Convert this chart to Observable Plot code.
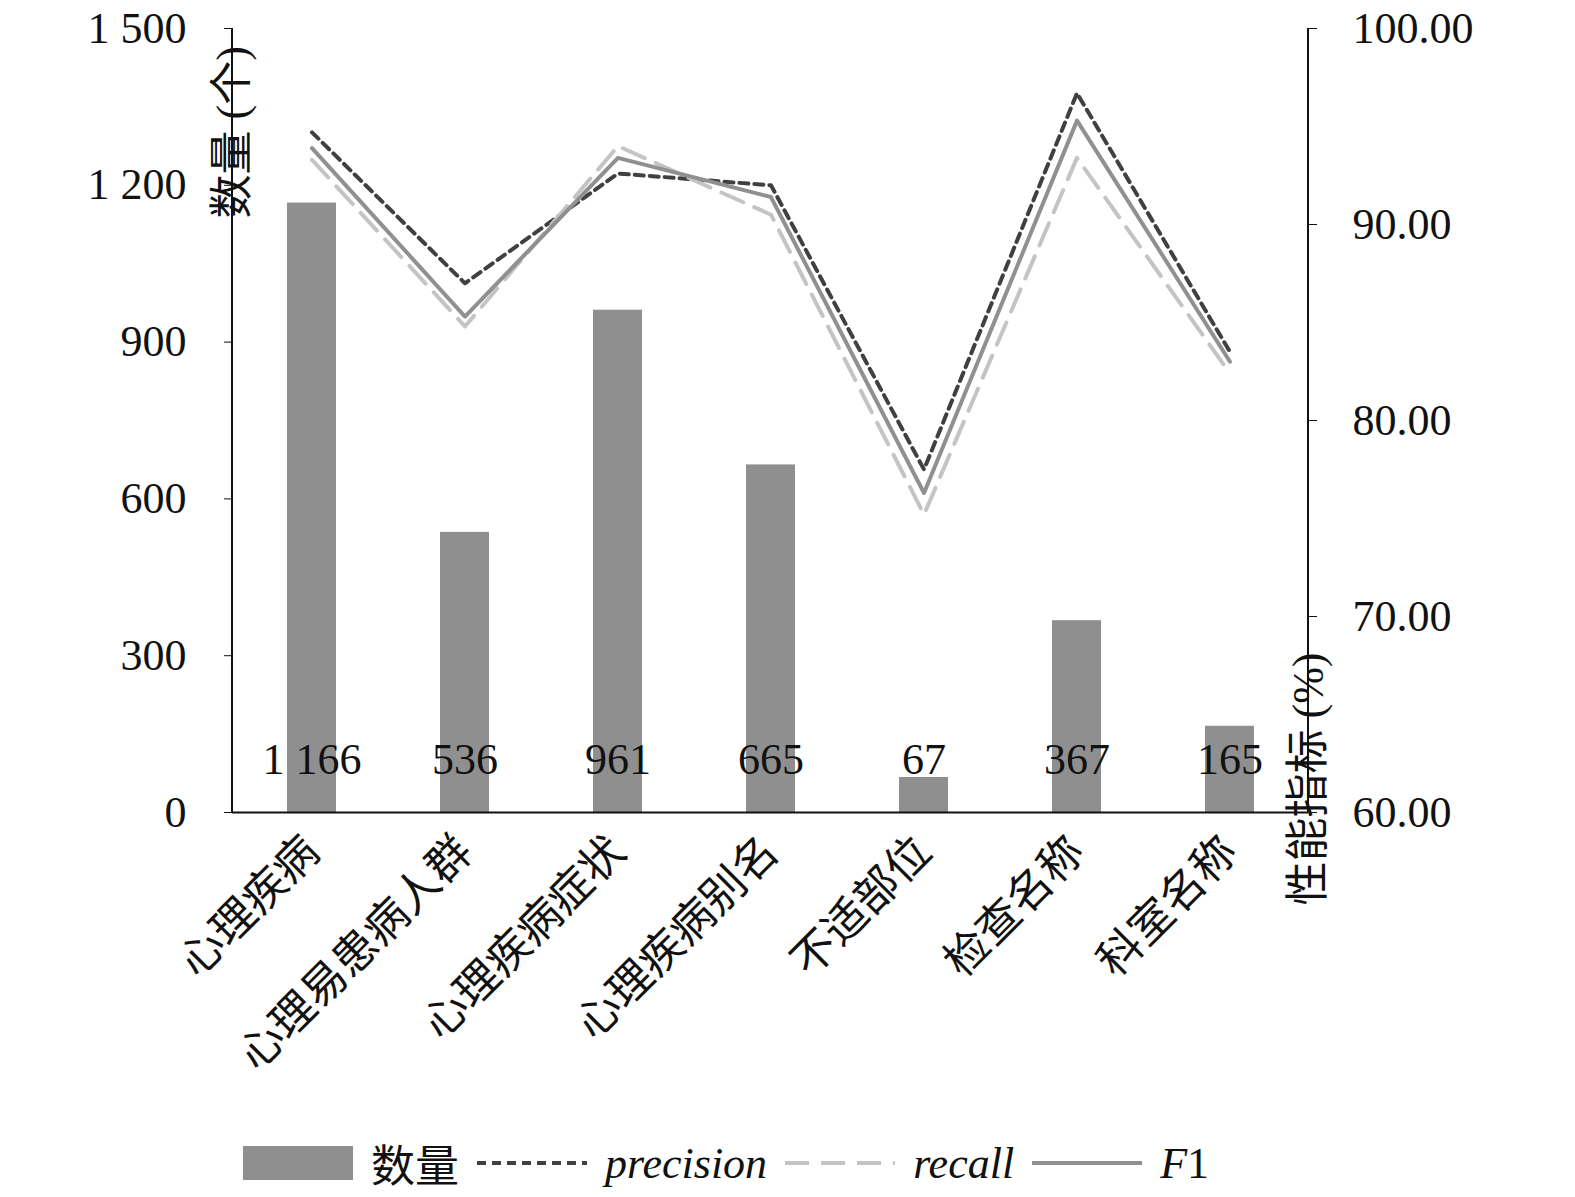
<!DOCTYPE html>
<html><head><meta charset="utf-8">
<script src="https://cdn.jsdelivr.net/npm/d3@7"></script>
<script src="https://cdn.jsdelivr.net/npm/@observablehq/plot@0.6"></script>
<style>
body{margin:0;background:#fff;font-family:"Liberation Serif","Noto Sans CJK SC",serif;}
#legend{display:flex;align-items:center;font-size:44px;margin-left:243px;margin-top:8px;height:50px;color:#111}
#legend span{margin:0 18px 0 18px}
</style></head><body>
<div id="chart"></div>
<div id="legend"></div>
<script>
const categories = ["心理疾病","心理易患病人群","心理疾病症状","心理疾病别名","不适部位","检查名称","科室名称"];
const counts = [1166,536,961,665,67,367,165];
const precision = [94.7,87.0,92.6,92.0,77.5,96.7,83.5];
const recall = [93.3,84.8,94.0,90.5,75.2,93.4,82.4];
const f1 = [93.9,85.3,93.4,91.4,76.3,95.3,83.0];
const leftTicks = [0,300,600,900,1200,1500];
const rightTicks = [60,70,80,90,100];

const toCount = p => (p-60)/40*1500;
const fmt = n => n>=1000 ? d3.format(",")(n).replace(",", " ") : String(n);
const bars = categories.map((c,i)=>({c, v:counts[i]}));
const ser = (arr)=>categories.map((c,i)=>({c, y:toCount(arr[i])}));

const plot = Plot.plot({
  width:1575, height:1130,
  marginLeft:232, marginRight:267, marginTop:28, marginBottom:318,
  style:{fontFamily:'"Liberation Serif","Noto Sans CJK SC",serif', fontSize:"44px", color:"#111", background:"#fff"},
  x:{domain:categories, paddingInner:0.68, paddingOuter:0.34, label:null},
  y:{domain:[0,1500], label:null},
  marks:[
    Plot.barY(bars,{x:"c", y:"v", fill:"#8f8f8f"}),
    Plot.line(ser(precision),{x:"c", y:"y", stroke:"#404040", strokeWidth:4, strokeDasharray:"9,6"}),
    Plot.line(ser(recall),{x:"c", y:"y", stroke:"#c4c4c4", strokeWidth:4, strokeDasharray:"24,12"}),
    Plot.line(ser(f1),{x:"c", y:"y", stroke:"#909090", strokeWidth:4}),
    Plot.text(bars,{x:"c", y:()=>100, text:d=>fmt(d.v), fontSize:44, fill:"#111"}),
    Plot.axisY({ticks:leftTicks, tickFormat:fmt, tickSize:8, tickPadding:38, fontSize:44, label:null}),
    Plot.axisY({anchor:"right", ticks:rightTicks.map(toCount), tickFormat:d=>(d/1500*40+60).toFixed(2), tickSize:8, tickPadding:36, fontSize:44, label:null}),
    Plot.ruleY([0],{stroke:"#111", strokeWidth:2}),
    Plot.axisX({tickSize:0, tickRotate:-45, tickPadding:32, fontSize:44, label:null, textAnchor:"end"}),
    Plot.text(["数量 (个)"],{frameAnchor:"left", dy:-202, rotate:-90, fontSize:44, fill:"#111"}),
    Plot.text(["性能指标 (%)"],{frameAnchor:"right", dy:232, rotate:-90, fontSize:44, fill:"#111"})
  ]
});
document.getElementById("chart").append(plot);
const svg=d3.select(plot);
svg.append("line").attr("x1",1308).attr("x2",1308).attr("y1",28).attr("y2",812).attr("stroke","#111").attr("stroke-width",2);
svg.append("line").attr("x1",232).attr("x2",232).attr("y1",28).attr("y2",812).attr("stroke","#111").attr("stroke-width",2);

const lg=document.getElementById("legend");
lg.innerHTML=`<svg width="110" height="34"><rect width="110" height="34" fill="#8f8f8f"/></svg><span>数量</span>
<svg width="110" height="10"><line x1="0" x2="110" y1="5" y2="5" stroke="#404040" stroke-width="4" stroke-dasharray="9,6"/></svg><span><i>precision</i></span>
<svg width="110" height="10"><line x1="0" x2="110" y1="5" y2="5" stroke="#c4c4c4" stroke-width="4" stroke-dasharray="24,12"/></svg><span><i>recall</i></span>
<svg width="110" height="10"><line x1="0" x2="110" y1="5" y2="5" stroke="#909090" stroke-width="4"/></svg><span><i>F</i>1</span>`;
</script></body></html>
